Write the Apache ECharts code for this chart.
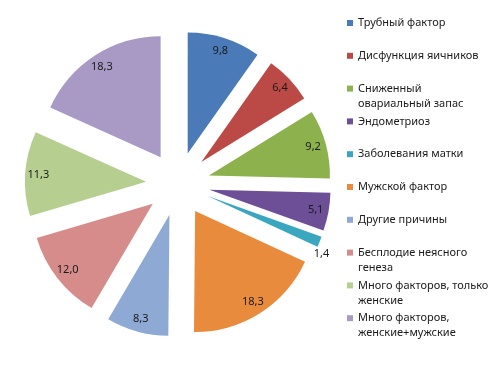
<!DOCTYPE html>
<html>
<head>
<meta charset="utf-8">
<script src="https://cdn.jsdelivr.net/npm/echarts@6/dist/echarts.min.js"></script>
<style>
html,body{margin:0;padding:0;background:#fff;}
#chart{width:500px;height:365px;}
</style>
</head>
<body>
<div id="chart"></div>
<script>
const categories = [
  'Трубный фактор',
  'Дисфункция яичников',
  'Сниженный\nовариальный запас',
  'Эндометриоз',
  'Заболевания матки',
  'Мужской фактор',
  'Другие причины',
  'Бесплодие неясного\nгенеза',
  'Много факторов, только\nженские',
  'Много факторов,\nженские+мужские'
];
const values = [9.8, 6.4, 9.2, 5.1, 1.4, 18.3, 8.3, 12.0, 11.3, 18.3];
const colors = ['#4a7ab8', '#bb4a46', '#8db14c', '#6d4f98', '#3aa6c0', '#e98b3c', '#8fa9d5', '#d58c8b', '#b6cf91', '#a899c5'];

const FONT = 'Noto Sans';
const fmt = v => v.toFixed(1).replace('.', ',');

const rich = {
  t: { fontSize: 11, lineHeight: 15, color: '#1a1a1a', fontFamily: FONT },
  g: { width: 5, height: 6 },
  g2: { width: 11, height: 6 }
};
colors.forEach((c, i) => { rich['m' + i] = { width: 6, height: 6, backgroundColor: c }; });

const chart = echarts.init(document.getElementById('chart'), null, { renderer: 'canvas' });
const option = {
  animation: false,
  backgroundColor: '#ffffff',
  color: colors,
  legend: {
    orient: 'vertical',
    left: 342,
    top: 15.5,
    padding: 0,
    itemGap: 2.8,
    icon: 'none',
    itemWidth: 0,
    itemHeight: 0,
    selectedMode: false,
    data: categories,
    formatter: function (name) {
      const i = categories.indexOf(name);
      const parts = name.split('\n');
      const l1 = '{m' + i + '|}{g|}{t|' + parts[0] + '}';
      const l2 = parts[1] ? '{g2|}{t|' + parts[1] + '}' : '{t|\u00a0}';
      return l1 + '\n' + l2;
    },
    textStyle: { fontSize: 11, lineHeight: 15, fontFamily: FONT, color: '#1a1a1a', rich: rich }
  },
  series: [
    {
      type: 'pie',
      center: [178, 184],
      radius: [0, 121],
      startAngle: 90,
      clockwise: true,
      selectedMode: 'multiple',
      selectedOffset: 32,
      avoidLabelOverlap: false,
      label: { show: false },
      labelLine: { show: false },
      itemStyle: { borderWidth: 0 },
      select: { itemStyle: { borderWidth: 0 } },
      emphasis: { disabled: true },
      data: categories.map((n, i) => ({ name: n, value: values[i], selected: true }))
    },
    {
      type: 'pie',
      center: [178, 184],
      radius: [89, 121],
      startAngle: 90,
      clockwise: true,
      selectedMode: 'multiple',
      selectedOffset: 32,
      avoidLabelOverlap: false,
      silent: true,
      itemStyle: { color: 'rgba(0,0,0,0)', borderWidth: 0 },
      select: { itemStyle: { color: 'rgba(0,0,0,0)', borderWidth: 0 } },
      emphasis: { disabled: true },
      labelLine: { show: false, length: 0, length2: 0 },
      label: {
        show: true,
        position: 'inside',
        fontSize: 11,
        fontFamily: FONT,
        color: '#1a1a1a',
        formatter: p => fmt(values[p.dataIndex])
      },
      labelLayout: function (params) {
        if (values[params.dataIndex] < 3) return { dx: -6, dy: 12 };
        return {};
      },
      data: categories.map((n, i) => {
        const d = { name: n, value: values[i], selected: true };
        if (values[i] < 3) {
          d.label = { position: 'outside', distanceToLabelLine: 0 };
          d.labelLine = { show: false, length: 0, length2: 0 };
        }
        return d;
      })
    }
  ]
};
chart.setOption(option);
</script>
</body>
</html>
